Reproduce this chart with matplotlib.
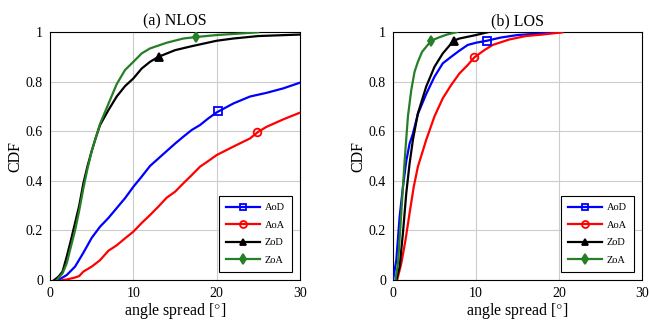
import matplotlib
matplotlib.use("Agg")
import matplotlib.pyplot as plt
from matplotlib import rc

rc('font', **{'family': 'serif', 'serif': ['Liberation Serif'], 'size': 10})
rc('mathtext', fontset='stix')

# (a) NLOS
nlos_aod_x = [1, 2, 3, 4, 5, 6, 7, 8, 9, 10, 11, 12, 13, 14, 15, 16, 17, 18, 19, 20, 22, 24, 26, 28, 30]
nlos_aod_y = [0, 0.02, 0.054, 0.11, 0.17, 0.215, 0.25, 0.29, 0.33, 0.376, 0.417, 0.46, 0.49, 0.52, 0.55,
              0.578, 0.605, 0.625, 0.652, 0.676, 0.712, 0.74, 0.755, 0.773, 0.796]
nlos_aoa_x = [1.5, 2, 3, 3.5, 4, 5, 6, 7, 8, 9, 10, 11, 12, 13, 14, 15, 16, 17, 18, 19, 20, 22, 24, 25, 26, 28, 30]
nlos_aoa_y = [0, 0.002, 0.01, 0.016, 0.034, 0.054, 0.08, 0.118, 0.14, 0.168, 0.195, 0.23, 0.262, 0.296, 0.332,
              0.356, 0.39, 0.423, 0.457, 0.48, 0.504, 0.538, 0.571, 0.598, 0.618, 0.648, 0.675]
nlos_zod_x = [0.5, 1, 1.5, 2, 2.5, 3, 3.5, 4, 4.5, 5, 5.5, 6, 7, 8, 9, 10, 11, 12, 13, 15, 17, 20, 22, 25, 30]
nlos_zod_y = [0, 0.013, 0.034, 0.094, 0.16, 0.23, 0.3, 0.39, 0.46, 0.52, 0.575, 0.625, 0.685, 0.74, 0.782,
              0.813, 0.853, 0.88, 0.9, 0.927, 0.943, 0.965, 0.974, 0.984, 0.99]
nlos_zoa_x = [0.8, 1.5, 2, 2.5, 3, 3.5, 4, 4.5, 5, 6, 7, 8, 9, 10, 11, 12, 14, 16, 17.5, 20, 25]
nlos_zoa_y = [0, 0.027, 0.067, 0.134, 0.2, 0.28, 0.37, 0.45, 0.52, 0.63, 0.71, 0.79, 0.847, 0.88, 0.914,
              0.934, 0.957, 0.974, 0.98, 0.988, 0.999]
nlos_marks = {'AoD': (20.2, 0.68), 'AoA': (24.9, 0.597), 'ZoD': (13.1, 0.9), 'ZoA': (17.5, 0.98)}

# (b) LOS
los_aod_x = [0, 0.4, 0.8, 1.2, 1.6, 2, 2.4, 3, 4, 5, 6, 7, 8, 9, 10, 11.3, 13, 15, 18, 20.3]
los_aod_y = [0, 0.08, 0.255, 0.376, 0.48, 0.55, 0.59, 0.67, 0.75, 0.82, 0.874, 0.9, 0.925, 0.948, 0.957,
             0.965, 0.978, 0.988, 0.995, 1.0]
los_aoa_x = [0.5, 1, 1.5, 2, 2.5, 3, 4, 5, 6, 7, 8, 9, 9.8, 11, 12, 14, 16, 18, 20.4]
los_aoa_y = [0, 0.067, 0.16, 0.27, 0.376, 0.457, 0.565, 0.66, 0.733, 0.786, 0.833, 0.867, 0.898, 0.927,
             0.948, 0.97, 0.984, 0.99, 0.999]
los_zod_x = [0.4, 0.8, 1.2, 1.6, 2, 2.4, 3, 4, 5, 6, 7.3, 8, 10, 11.5]
los_zod_y = [0, 0.054, 0.19, 0.35, 0.47, 0.565, 0.672, 0.78, 0.86, 0.914, 0.965, 0.974, 0.988, 1.0]
los_zoa_x = [0.3, 0.6, 1, 1.4, 1.8, 2.2, 2.6, 3, 3.5, 4.6, 5.5, 6.5, 7.7]
los_zoa_y = [0, 0.067, 0.27, 0.48, 0.66, 0.766, 0.84, 0.88, 0.92, 0.965, 0.978, 0.99, 1.0]
los_marks = {'AoD': (11.3, 0.965), 'AoA': (9.8, 0.898), 'ZoD': (7.3, 0.965), 'ZoA': (4.6, 0.965)}

styles = {
    'AoD': dict(color='#0000ff', marker='s', mfc='none'),
    'AoA': dict(color='#ff0000', marker='o', mfc='none'),
    'ZoD': dict(color='black', marker='^', mfc='black'),
    'ZoA': dict(color='#267f26', marker='d', mfc='#267f26'),
}

fig = plt.figure(figsize=(6.5, 3.22), dpi=100)
axL = fig.add_axes([0.077, 0.1304, 0.3845, 0.770])
axR = fig.add_axes([0.6046, 0.1304, 0.3831, 0.770])

panels = [
    (axL, '(a) NLOS', {'AoD': (nlos_aod_x, nlos_aod_y), 'AoA': (nlos_aoa_x, nlos_aoa_y),
                       'ZoD': (nlos_zod_x, nlos_zod_y), 'ZoA': (nlos_zoa_x, nlos_zoa_y)}, nlos_marks),
    (axR, '(b) LOS', {'AoD': (los_aod_x, los_aod_y), 'AoA': (los_aoa_x, los_aoa_y),
                      'ZoD': (los_zod_x, los_zod_y), 'ZoA': (los_zoa_x, los_zoa_y)}, los_marks),
]

for ax, title, series, marks in panels:
    for name in ['AoD', 'AoA', 'ZoD', 'ZoA']:
        x, y = series[name]
        st = styles[name]
        ax.plot(x, y, color=st['color'], lw=1.6, zorder=3)
        mx, my = marks[name]
        ax.plot([mx], [my], linestyle='none', marker=st['marker'], color=st['color'],
                mfc=st['mfc'], mew=1.3, ms=5.5, zorder=4)
        # legend proxy
        ax.plot([], [], color=st['color'], lw=1.6, marker=st['marker'], mfc=st['mfc'],
                mew=1.3, ms=5, label=name)
    ax.set_xlim(0, 30)
    ax.set_ylim(0, 1)
    ax.set_xticks([0, 10, 20, 30])
    ax.set_yticks([0, 0.2, 0.4, 0.6, 0.8, 1])
    ax.set_yticklabels(['0', '0.2', '0.4', '0.6', '0.8', '1'])
    ax.grid(True, color='#cccccc', lw=0.8)
    ax.set_axisbelow(True)
    ax.tick_params(length=0, labelsize=10, pad=5)
    for s in ax.spines.values():
        s.set_linewidth(0.8)
    ax.set_title(title, fontsize=11.5, pad=5)
    ax.set_xlabel(r'angle spread [$\degree$]', fontsize=11.5, labelpad=1)
    ax.set_ylabel('CDF', fontsize=11.5, labelpad=2)
    leg = ax.legend(loc='lower right', fontsize=7.5, fancybox=False, edgecolor='black',
                    handlelength=3.2, borderpad=0.7, labelspacing=0.8, framealpha=1,
                    handletextpad=0.5, bbox_to_anchor=(0.99, 0.01))
    leg.get_frame().set_linewidth(0.8)

fig.savefig('out.png', dpi=100)
